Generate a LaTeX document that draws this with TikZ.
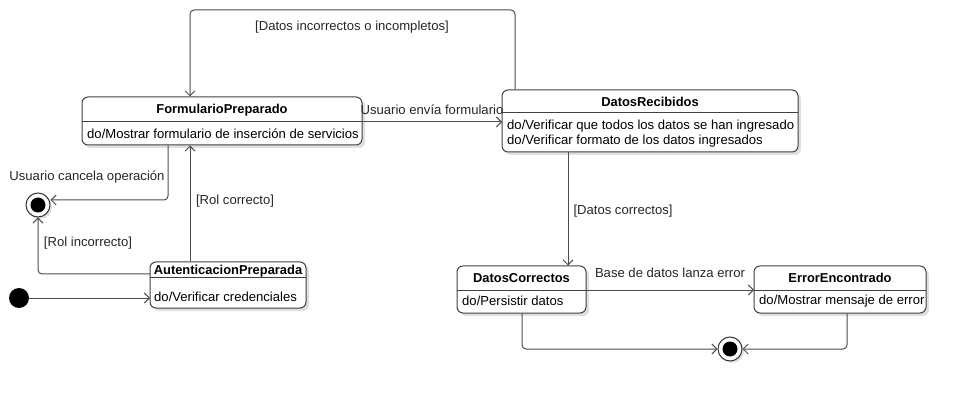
\documentclass[tikz,border=0pt]{standalone}
\usepackage{fontspec}
\setmainfont{Liberation Sans}
\usetikzlibrary{arrows.meta,shadows}
\begin{document}
\begin{tikzpicture}[x=1pt,y=-1pt,
  every node/.style={font=\fontsize{13.1}{15}\selectfont, inner sep=0pt},
  statebox/.style={draw=black!75, line width=1pt, rounded corners=6pt, fill=white,
     drop shadow={shadow xshift=3pt, shadow yshift=-3pt, fill=black!12, opacity=1}},
  ttl/.style={font=\fontsize{12.9}{15}\selectfont\bfseries},
  act/.style={anchor=west, align=left},
  conn/.style={draw=black!70, line width=1pt, rounded corners=4pt, -{Straight Barb[length=5pt,width=10pt]}},
  lbl/.style={text=black!85},
  finalst/.style={circle, draw=black!80, line width=1pt, fill=white, minimum size=24pt,
     drop shadow={shadow xshift=2pt, shadow yshift=-2pt, fill=black!12, opacity=1}},
  finaldot/.style={circle, fill=black, minimum size=15pt},
  initst/.style={circle, fill=black, minimum size=20pt}]
\useasboundingbox (0,0) rectangle (966,403);

% FormularioPreparado
\node[statebox, minimum width=280, minimum height=48] (fp) at (222,121) {};
\draw[black!75, line width=1pt] (82,122) -- (362,122);
\node[ttl] (fpt) at (222,110) {FormularioPreparado};
\node[act] (fpa) at (87,134) {do/Mostrar formulario de inserción de servicios};

% DatosRecibidos
\node[statebox, minimum width=296, minimum height=62] (dr) at (650,121) {};
\draw[black!75, line width=1pt] (502,113) -- (798,113);
\node[ttl] (drt) at (650,102) {DatosRecibidos};
\node[act] (dra) at (507,126) {do/Verificar que todos los datos se han ingresado};
\node[act] (drb) at (507,141) {do/Verificar formato de los datos ingresados};

% AutenticacionPreparada
\node[statebox, minimum width=156, minimum height=46] (ap) at (228,285) {};
\draw[black!75, line width=1pt] (150,278) -- (306,278);
\node[ttl] (apt) at (228,271) {AutenticacionPreparada};
\node[act] (apa) at (154,297) {do/Verificar credenciales};

% DatosCorrectos
\node[statebox, minimum width=129, minimum height=47] (dc) at (521.5,289.5) {};
\draw[black!75, line width=1pt] (457,290) -- (586,290);
\node[ttl] (dct) at (521.5,278) {DatosCorrectos};
\node[act] (dca) at (462,301) {do/Persistir datos};

% ErrorEncontrado
\node[statebox, minimum width=172, minimum height=47] (ee) at (840,289.5) {};
\draw[black!75, line width=1pt] (754,290) -- (926,290);
\node[ttl] (eet) at (840,278) {ErrorEncontrado};
\node[act] (eea) at (759,301) {do/Mostrar mensaje de error};

% initial and final states
\node[initst] (init) at (19,298) {};
\node[finalst] (fin1) at (38,205) {};
\node[finaldot] at (fin1) {};
\node[finalst] (fin2) at (730,349) {};
\node[finaldot] at (fin2) {};

% connectors
\coordinate (c1) at (515,10);
\coordinate (c2) at (190,10);
\draw[conn] (dr.north -| 515,0) -- (c1) -- (c2) -- (fp.north -| 190,0);
\node[lbl] at (352,27) {[Datos incorrectos o incompletos]};

\draw[conn] (362,122) -- (502,122);
\node[lbl] at (432,110) {Usuario envía formulario};

\draw[conn] (dr.south -| 568,0) -- (dc.north -| 568,0);
\node[lbl] at (623,211) {[Datos correctos]};

\draw[conn] (586,290) -- (754,290);
\node[lbl] at (670,273) {Base de datos lanza error};

\coordinate (c3) at (522,349);
\draw[conn] (dc.south -| 522,0) -- (c3) -- (fin2.west);
\coordinate (c4) at (847,349);
\draw[conn] (ee.south -| 847,0) -- (c4) -- (fin2.east);

\coordinate (c5) at (168,200);
\draw[conn] (fp.south -| 168,0) -- (c5) -- (fin1.east |- 0,200);
\node[lbl] at (87,177) {Usuario cancela operación};

\draw[conn] (ap.north -| 190,0) -- (fp.south -| 190,0);
\node[lbl] at (235,201) {[Rol correcto]};

\coordinate (c6) at (38,274);
\draw[conn] (150,274) -- (c6) -- (fin1.south);
\node[lbl] at (88,243) {[Rol incorrecto]};

\draw[conn] (init.east) -- (150,298);
\end{tikzpicture}
\end{document}
